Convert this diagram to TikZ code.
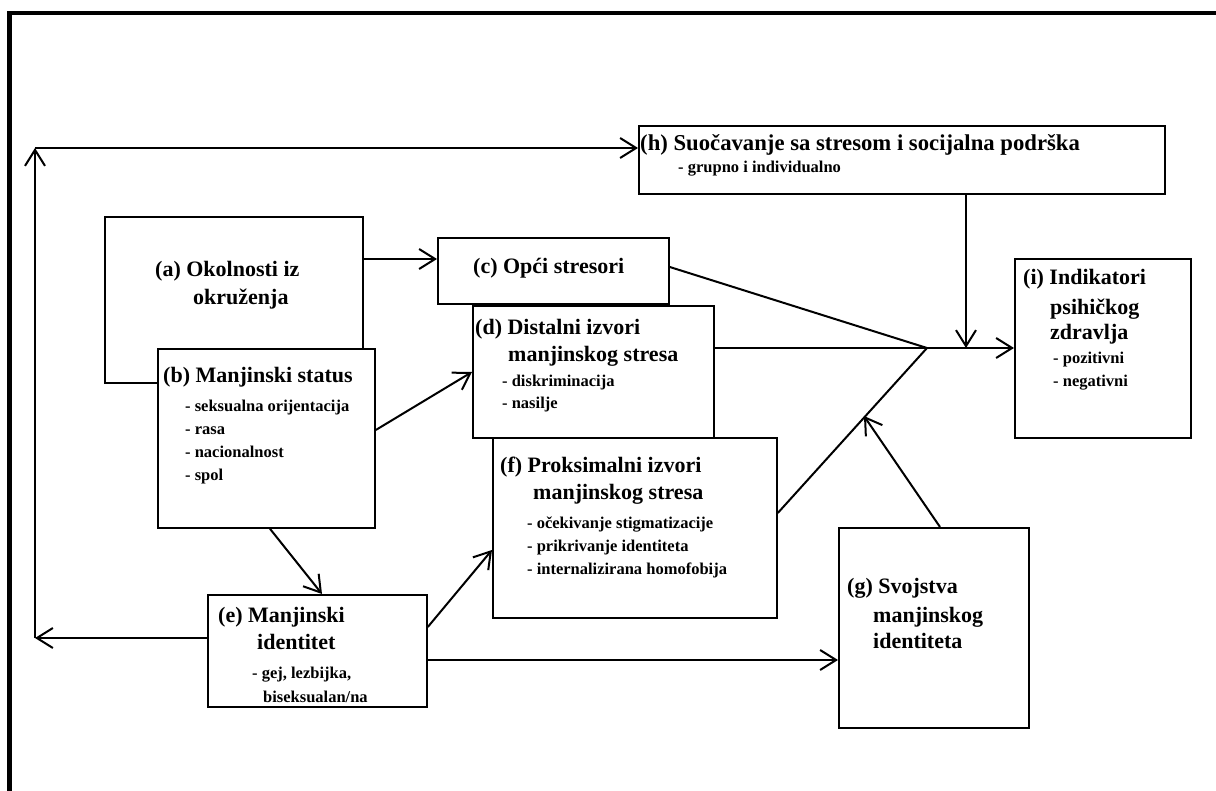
\documentclass[tikz,border=0pt]{standalone}
\usepackage{fontspec}
\setmainfont{Liberation Serif}
\usetikzlibrary{arrows.meta}
\tikzset{
  box/.style={draw=black, line width=1.8pt, fill=white, anchor=north west, inner sep=0pt},
  ttl/.style={anchor=base west, inner sep=0pt, font=\fontsize{22}{26}\selectfont\bfseries},
  sub/.style={anchor=base west, inner sep=0pt, font=\fontsize{16.5}{20}\selectfont\bfseries},
  conn/.style={line width=2pt},
  arr/.style={line width=2pt, -{Straight Barb[length=16pt,width=20pt,line width=2pt]}},
}
\begin{document}
\begin{tikzpicture}[x=1pt,y=-1pt]
\useasboundingbox (0,0) rectangle (1216,791);
% outer frame
\draw[line width=4.5pt] (9.5,791) -- (9.5,13) -- (1216,13);

% boxes
\node[box, minimum width=258pt, minimum height=166pt] (a) at (104,216) {};
\node[box, minimum width=217pt, minimum height=179pt] (b) at (157,348) {};
\node[box, minimum width=231pt, minimum height=66pt] (c) at (437,237) {};
\node[box, minimum width=241pt, minimum height=132pt] (d) at (472,305) {};
\node[box, minimum width=284pt, minimum height=180pt] (f) at (492,437) {};
\node[box, minimum width=219pt, minimum height=112pt] (e) at (207,594) {};
\node[box, minimum width=190pt, minimum height=200pt] (g) at (838,527) {};
\node[box, minimum width=526pt, minimum height=68pt] (h) at (638,125) {};
\node[box, minimum width=176pt, minimum height=179pt] (i) at (1014,258) {};

% texts
\node[ttl] (a1) at (155,277) {(a) Okolnosti iz};
\node[ttl] (a2) at (193,305) {okruženja};

\node[ttl] (b1) at (163,383) {(b) Manjinski status};
\node[sub] (b2) at (185,412) {- seksualna orijentacija};
\node[sub] (b3) at (185,435) {- rasa};
\node[sub] (b4) at (185,457) {- nacionalnost};
\node[sub] (b5) at (185,480) {- spol};

\node[ttl] (c1) at (473,274) {(c) Opći stresori};

\node[ttl] (d1) at (475,335) {(d) Distalni izvori};
\node[ttl] (d2) at (508,362) {manjinskog stresa};
\node[sub] (d3) at (502,387) {- diskriminacija};
\node[sub] (d4) at (502,409) {- nasilje};

\node[ttl] (f1) at (500,472) {(f) Proksimalni izvori};
\node[ttl] (f2) at (533,500) {manjinskog stresa};
\node[sub] (f3) at (527,528) {- očekivanje stigmatizacije};
\node[sub] (f4) at (527,551) {- prikrivanje identiteta};
\node[sub] (f5) at (527,574) {- internalizirana homofobija};

\node[ttl] (e1) at (218,622) {(e) Manjinski};
\node[ttl] (e2) at (257,649) {identitet};
\node[sub] (e3) at (252,678) {- gej, lezbijka,};
\node[sub] (e4) at (263,702) {biseksualan/na};

\node[ttl] (g1) at (847,593) {(g) Svojstva};
\node[ttl] (g2) at (873,622) {manjinskog};
\node[ttl] (g3) at (873,648) {identiteta};

\node[ttl, font=\fontsize{22.7}{26}\selectfont\bfseries] (h1) at (640,151) {(h) Suočavanje sa stresom i socijalna podrška};
\node[sub] (h2) at (678,173) {- grupno i individualno};

\node[ttl] (i1) at (1023,285) {(i) Indikatori};
\node[ttl] (i2) at (1050,315) {psihičkog};
\node[ttl] (i3) at (1050,340) {zdravlja};
\node[sub] (i4) at (1053,364) {- pozitivni};
\node[sub] (i5) at (1053,387) {- negativni};

% junction and helper coordinates
\coordinate (J) at (927,348);
\coordinate (hJ) at (966,348);
\coordinate (gP) at (864,416);
\coordinate (cl) at (35,638);
\coordinate (ct) at (35,148);

% connectors
\draw[arr] (e.west |- cl) -- (cl);
\draw[arr] (cl) -- (ct);
\draw[arr] (ct) -- (h.west |- ct);
\draw[arr] (a.east |- 0,259) -- (c.west |- 0,259);
\draw[arr] (b.east |- 0,430) -- (d.west |- 0,372);
\draw[arr] (b.south -| 270,0) -- (e.north -| 322,0);
\draw[arr] (e.east |- 0,627) -- (f.west |- 0,550);
\draw[arr] (e.east |- 0,660) -- (g.west |- 0,660);
\draw[conn] (c.east |- 0,267) -- (J);
\draw[conn] (d.east |- J) -- (J);
\draw[conn] (f.east |- 0,513) -- (J);
\draw[arr] (J) -- (i.west |- J);
\draw[arr] (h.south -| hJ) -- (hJ);
\draw[arr] (g.north -| 940,0) -- (gP);
\end{tikzpicture}
\end{document}
